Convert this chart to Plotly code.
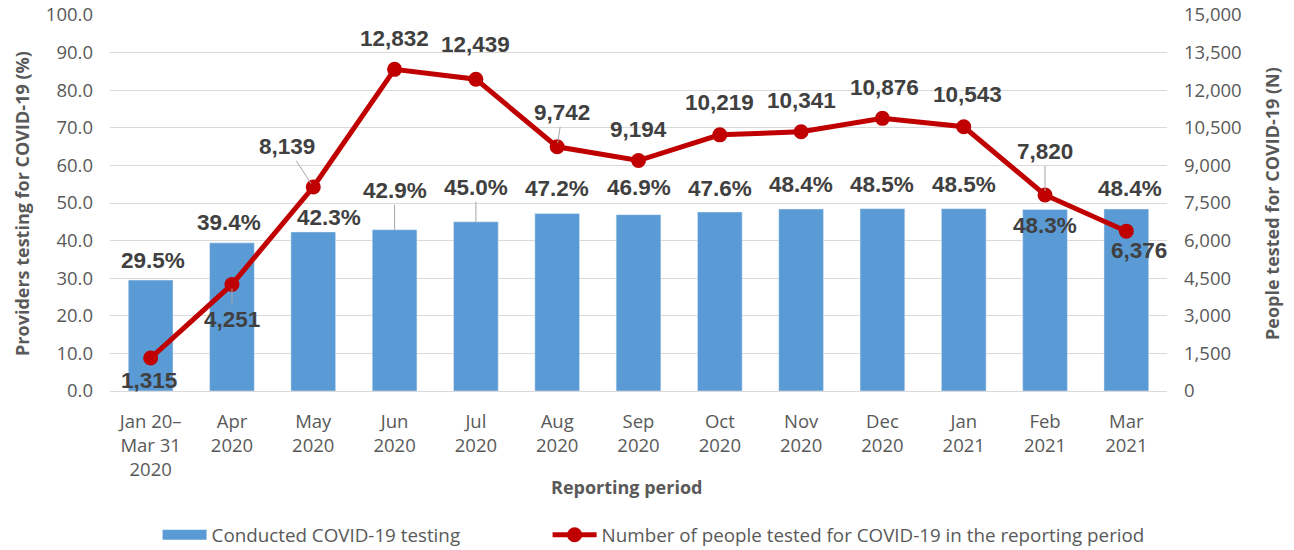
import plotly.graph_objects as go

periods = ["Jan 20–<br>Mar 31<br>2020", "Apr<br>2020", "May<br>2020", "Jun<br>2020", "Jul<br>2020",
           "Aug<br>2020", "Sep<br>2020", "Oct<br>2020", "Nov<br>2020", "Dec<br>2020",
           "Jan<br>2021", "Feb<br>2021", "Mar<br>2021"]
pct_testing = [29.5, 39.4, 42.3, 42.9, 45.0, 47.2, 46.9, 47.6, 48.4, 48.5, 48.5, 48.3, 48.4]
people_tested = [1315, 4251, 8139, 12832, 12439, 9742, 9194, 10219, 10341, 10876, 10543, 7820, 6376]

bar_name = "Conducted COVID-19 testing"
line_name = "Number of people tested for COVID-19 in the reporting period"
x_title = "Reporting period"
y_title = "Providers testing for COVID-19 (%)"
y2_title = "People tested for COVID-19 (N)"

# label placement (pixel offsets): (dx, dy, leader)
bar_lbl = [(2, 20, False), (-3, 20, False), (16, 14, False), (0, 39, True), (0, 34, True),
           (0, 25, False), (0, 27, False), (0, 24, False), (0, 25, False), (0, 24, False),
           (0, 24, False), (0, -16, False), (4, 21, False)]
line_lbl = [(-2, -22, False), (0, -35, True), (-26, 40, True), (0, 31, False), (0, 35, False),
            (5, 34, True), (0, 31, False), (0, 32, False), (0, 31, False), (2, 31, False),
            (4, 32, False), (0, 43, True), (13, -19, False)]

BAR = "#5B9BD5"
RED = "#C00000"
TXT = "#404040"
AX = "#595959"
GRID = "#D9D9D9"
LBLFONT = dict(family="Liberation Sans, Arial", size=22.5, color=TXT, weight="bold")
TICKFONT = dict(family="Open Sans", size=18.5, color=AX)
TITLEFONT = dict(family="Open Sans", size=18, color=AX, weight="bold")
LEGFONT = dict(family="Open Sans", size=18.8, color=AX)

fig = go.Figure()
fig.add_trace(go.Bar(x=periods, y=pct_testing, name=bar_name, marker_color=BAR, yaxis="y",
                     showlegend=False))
fig.add_trace(go.Scatter(x=periods, y=people_tested, name=line_name, yaxis="y2",
                         mode="lines+markers", line=dict(color=RED, width=5),
                         marker=dict(color=RED, size=15), legend="legend2"))
# legend key for the bars (wide rectangle like the original)
fig.add_trace(go.Scatter(x=[None], y=[None], name=bar_name, mode="lines",
                         line=dict(color=BAR, width=13), legend="legend", hoverinfo="skip"))

ann = []
for cat, v, (dx, dy, lead) in zip(periods, pct_testing, bar_lbl):
    txt = f"{v:.1f}%"
    if lead:
        ann.append(dict(x=cat, y=v, xref="x", yref="y", text=txt, showarrow=True, arrowhead=0,
                        arrowwidth=1, arrowcolor="#A6A6A6", ax=dx, ay=-dy, font=LBLFONT, standoff=0))
    else:
        ann.append(dict(x=cat, y=v, xref="x", yref="y", text=txt, showarrow=False,
                        xshift=dx, yshift=dy, font=LBLFONT))
for cat, v, (dx, dy, lead) in zip(periods, people_tested, line_lbl):
    txt = f"{v:,}"
    if lead:
        ann.append(dict(x=cat, y=v, xref="x", yref="y2", text=txt, showarrow=True, arrowhead=0,
                        arrowwidth=1, arrowcolor="#A6A6A6", ax=dx, ay=-dy, font=LBLFONT, standoff=4))
    else:
        ann.append(dict(x=cat, y=v, xref="x", yref="y2", text=txt, showarrow=False,
                        xshift=dx, yshift=dy, font=LBLFONT))

# axis titles
ann.append(dict(text=x_title, xref="paper", yref="paper", x=0.489, y=-0.2553,
                xanchor="center", yanchor="middle", showarrow=False, font=TITLEFONT))
ann.append(dict(text=y_title, xref="paper", yref="paper", x=-0.0833, y=0.5, textangle=-90,
                xanchor="center", yanchor="middle", showarrow=False, font=TITLEFONT))
ann.append(dict(text=y2_title, xref="paper", yref="paper", x=1.0993, y=0.5, textangle=-90,
                xanchor="center", yanchor="middle", showarrow=False, font=TITLEFONT))

fig.update_layout(
    width=1294, height=550,
    margin=dict(l=110, r=127, t=15, b=159, autoexpand=False),
    plot_bgcolor="white", paper_bgcolor="white",
    bargap=0.45,
    showlegend=True,
    legend=dict(orientation="h", x=0.045, xanchor="left", y=-0.383, yanchor="middle",
                font=LEGFONT, itemwidth=44, bgcolor="rgba(0,0,0,0)"),
    legend2=dict(orientation="h", x=0.414, xanchor="left", y=-0.383, yanchor="middle",
                 font=LEGFONT, itemwidth=44, bgcolor="rgba(0,0,0,0)"),
    xaxis=dict(showline=True, linecolor=GRID, linewidth=1, tickfont=TICKFONT,
               range=[-0.5, len(periods) - 0.5], automargin=False, ticklabelstandoff=14),
    yaxis=dict(range=[0, 100], dtick=10, tickformat=".1f", showgrid=True, gridcolor=GRID,
               zeroline=False, tickfont=TICKFONT, ticklabelstandoff=16, automargin=False),
    yaxis2=dict(range=[0, 15000], dtick=1500, tickformat=",d", overlaying="y", side="right",
                showgrid=False, zeroline=False, tickfont=TICKFONT, ticklabelstandoff=16,
                automargin=False),
    annotations=ann,
)

page_fix = (
    "document.documentElement.style.margin='0';"
    "document.body.style.margin='0'; document.body.style.overflow='hidden';"
)

fig.write_html("out.html", config={"displayModeBar": False}, post_script=page_fix)
